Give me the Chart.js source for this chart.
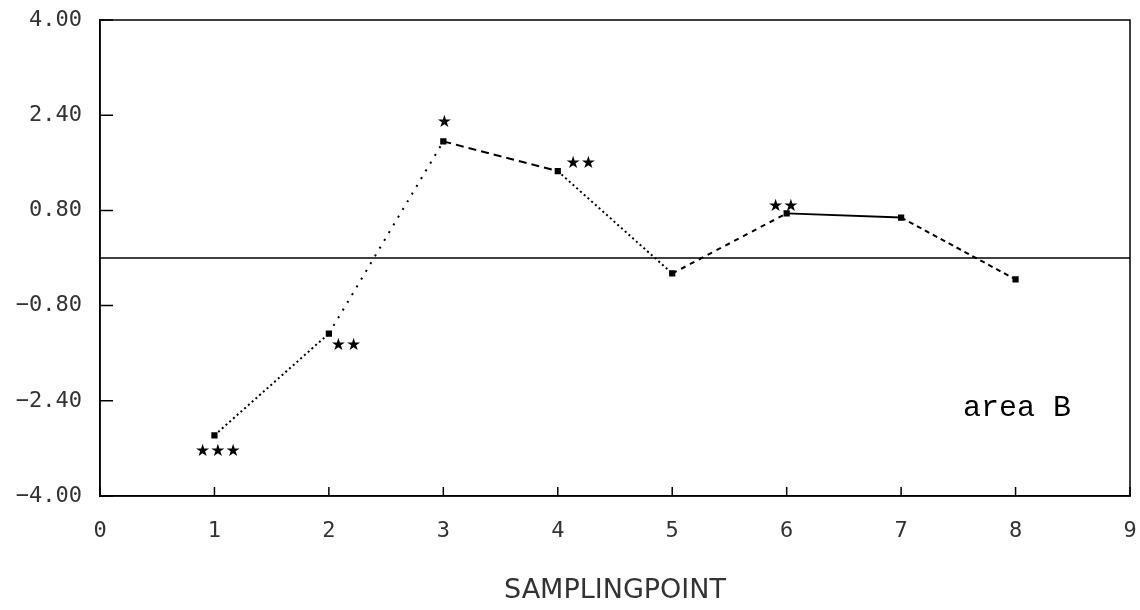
<!DOCTYPE html>
<html>
<head>
<meta charset="utf-8">
<script src="https://cdn.jsdelivr.net/npm/chart.js@4.4.1/dist/chart.umd.min.js"></script>
<style>
  html, body { margin: 0; padding: 0; background: #fff; }
  #wrap { width: 1140px; height: 610px; }
</style>
</head>
<body>
<div id="wrap"><canvas id="grafik"></canvas></div>
<script>
// sampling points and measured values
const samplingPoints = [1, 2, 3, 4, 5, 6, 7, 8];
const values = [-2.98, -1.27, 1.96, 1.46, -0.26, 0.75, 0.68, -0.36];

// significance marks written next to the points
const starText = ['***', '**', '*', '**', '**'];
const starX = [1.03, 2.15, 3.01, 4.20, 5.97];
const starY = [-3.26, -1.47, 2.27, 1.59, 0.86];

// axis ticks
const yTicks = [-4.0, -2.4, -0.8, 0.8, 2.4, 4.0];
const xTicks = [0, 1, 2, 3, 4, 5, 6, 7, 8, 9];

const areaLabel = 'area B';
const areaX = 7.54;
const areaY = -2.53;

// line style of each segment (scan shows dotted / dashed / solid pieces)
const segmentDash = [[2, 3], [2, 7], [8, 5], [2, 3], [5, 5], [], [5, 4]];

const tickFont = { family: "'DejaVu Sans Mono'", size: 22 };

// draws the frame, zero line, inward ticks and the text marks
const plotExtras = {
    id: 'plotExtras',
    afterDraw(chart) {
        const ctx = chart.ctx;
        const area = chart.chartArea;
        const sx = chart.scales.x;
        const sy = chart.scales.y;
        ctx.save();
        ctx.strokeStyle = '#000';
        ctx.lineWidth = 1.5;

        // frame
        ctx.strokeRect(area.left, area.top, area.right - area.left, area.bottom - area.top);

        // zero line
        const y0 = sy.getPixelForValue(0);
        ctx.beginPath();
        ctx.moveTo(area.left, y0);
        ctx.lineTo(area.right, y0);
        ctx.stroke();

        // ticks pointing into the plot
        ctx.beginPath();
        yTicks.forEach(v => {
            const py = sy.getPixelForValue(v);
            ctx.moveTo(area.left, py);
            ctx.lineTo(area.left + 13, py);
        });
        xTicks.forEach(v => {
            const px = sx.getPixelForValue(v);
            ctx.moveTo(px, area.bottom);
            ctx.lineTo(px, area.bottom - 9);
        });
        ctx.stroke();

        // stars
        ctx.fillStyle = '#000';
        ctx.font = "17px 'DejaVu Sans'";
        ctx.textAlign = 'center';
        ctx.textBaseline = 'middle';
        starText.forEach((t, i) => {
            const s = t.replace(/\*/g, '\u2605');
            ctx.fillText(s, sx.getPixelForValue(starX[i]), sy.getPixelForValue(starY[i]));
        });

        // area label
        ctx.font = "30px 'Liberation Mono'";
        ctx.textAlign = 'left';
        ctx.fillText(areaLabel, sx.getPixelForValue(areaX), sy.getPixelForValue(areaY));
        ctx.restore();
    }
};

const ctx = document.getElementById('grafik').getContext('2d');

const objekGrafik = new Chart(ctx, {
    type: 'line',
    data: {
        datasets: [{
            data: samplingPoints.map((x, i) => ({ x: x, y: values[i] })),
            borderColor: '#000',
            borderWidth: 2,
            backgroundColor: '#000',
            pointStyle: 'rect',
            pointRadius: 3,
            tension: 0,
            segment: {
                borderDash: c => segmentDash[c.p0DataIndex]
            }
        }]
    },
    options: {
        responsive: true,
        maintainAspectRatio: false,
        animation: false,
        layout: { padding: { top: 20, right: 10, left: 0, bottom: 0 } },
        plugins: {
            legend: { display: false },
            tooltip: { enabled: false }
        },
        scales: {
            x: {
                type: 'linear',
                min: 0,
                max: 9,
                afterBuildTicks: s => { s.ticks = xTicks.map(v => ({ value: v })); },
                afterFit: s => {
                    s.height = 114;
                    s.paddingLeft = 0;
                    s.paddingRight = 0;
                },
                grid: { display: false, drawTicks: false },
                border: { display: true, color: '#000', width: 1.5 },
                ticks: {
                    font: tickFont,
                    color: '#333',
                    padding: 22,
                    maxRotation: 0,
                    callback: v => String(v)
                },
                title: {
                    display: true,
                    text: 'SAMPLINGPOINT',
                    font: { family: "'DejaVu Sans'", size: 27 },
                    color: '#333',
                    padding: { top: 0, bottom: 3 }
                }
            },
            y: {
                type: 'linear',
                min: -4,
                max: 4,
                afterBuildTicks: s => { s.ticks = yTicks.map(v => ({ value: v })); },
                afterFit: s => {
                    s.width = 100;
                    s.paddingTop = 0;
                    s.paddingBottom = 0;
                },
                grid: { display: false, drawTicks: false },
                border: { display: true, color: '#000', width: 1.5 },
                ticks: {
                    font: tickFont,
                    color: '#333',
                    padding: 18,
                    callback: v => v.toFixed(2).replace('-', '\u2212')
                }
            }
        }
    },
    plugins: [plotExtras]
});
</script>
</body>
</html>
